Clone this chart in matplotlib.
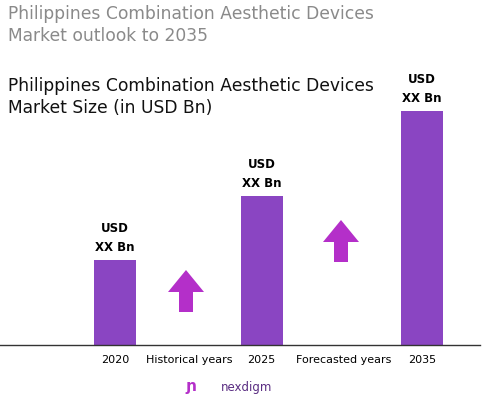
import matplotlib.pyplot as plt
from matplotlib.patches import FancyArrow

years = ["2020", "2025", "2035"]
values = [85, 149, 234]
bar_labels = ["USD\nXX Bn", "USD\nXX Bn", "USD\nXX Bn"]
period_labels = ["Historical years", "Forecasted years"]

W, H = 494, 401
fig = plt.figure(figsize=(W/100, H/100), dpi=100)
base = 345
ax = fig.add_axes([0, 1 - base/H, 1, base/H])
ax.set_xlim(0, W)
ax.set_ylim(0, base)
ax.axis("off")

xs = [115, 261.5, 422]
ax.bar(xs, values, width=42, color="#8A45C2", zorder=2)
for x, v, l in zip(xs, values, bar_labels):
    ax.text(x, v + 6, l, ha="center", va="bottom", fontsize=8.5, fontweight="bold", linespacing=1.6)
ax.plot([0, 480], [0, 0], color="#333333", lw=1, clip_on=False)

for x, y in [(186, 33), (341, 83)]:
    ax.add_patch(FancyArrow(x, y, 0, 42, width=14, head_width=36, head_length=22,
                            length_includes_head=True, color="#B42FC9", lw=0))

fig.text(8/W, 1 - 25/H, "Philippines Combination Aesthetic Devices\nMarket outlook to 2035",
         fontsize=12.3, color="#8a8a8a", va="center", ha="left", linespacing=1.3)
fig.text(8/W, 1 - 97/H, "Philippines Combination Aesthetic Devices\nMarket Size (in USD Bn)",
         fontsize=12.3, color="#111111", va="center", ha="left", linespacing=1.3)

ty = 1 - 360/H
for x, l in zip(xs, years):
    fig.text(x/W, ty, l, ha="center", va="center", fontsize=8)
fig.text(189/W, ty, period_labels[0], ha="center", va="center", fontsize=8)
fig.text(344/W, ty, period_labels[1], ha="center", va="center", fontsize=8)

fig.text(247/W, 1 - 387/H, "nexdigm", ha="center", va="center", fontsize=8.5, color="#5a2d82")
fig.text(191/W, 1 - 387/H, "ɲ", ha="center", va="center", fontsize=11, color="#B42FC9", fontweight="bold")

fig.savefig("out.png", dpi=100)
